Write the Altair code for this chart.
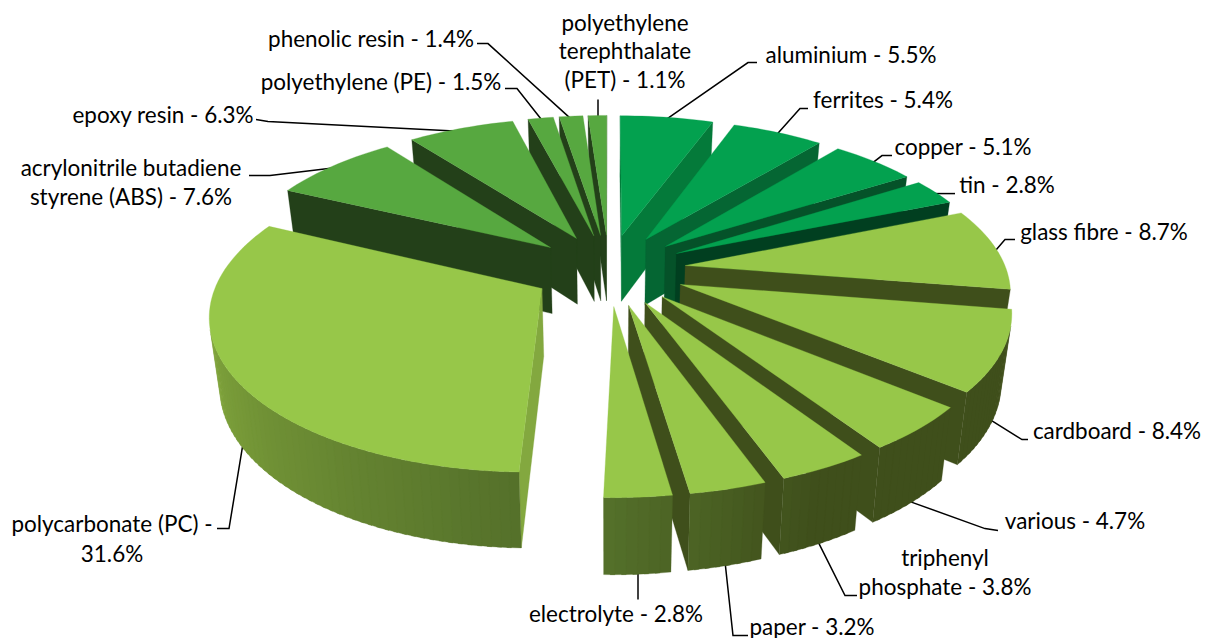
import math
import altair as alt
import pandas as pd

# ---- data
names = ["aluminium", "ferrites", "copper", "tin", "glass fibre", "cardboard", "various",
         "triphenyl phosphate", "paper", "electrolyte", "polycarbonate (PC)",
         "acrylonitrile butadiene styrene (ABS)", "epoxy resin", "polyethylene (PE)",
         "phenolic resin", "polyethylene terephthalate (PET)"]
shares = [5.5, 5.4, 5.1, 2.8, 8.7, 8.4, 4.7, 3.8, 3.2, 2.8, 31.6, 7.6, 6.3, 1.5, 1.4, 1.1]

# ---- colours
top_colors = ["#03A14F"] * 4 + ["#97C749"] * 7 + ["#57A840"] * 5
side_colors = ["#047A3A", "#056633", "#055229", "#013F20"] + ["#3F4F1B"] * 6 + ["#83A83F"] + ["#234019"] * 5

# ---- label text and places (reference pixels)
label_rows = [
    ("polyethylene", 625, 22), ("terephthalate", 625, 50), ("(PET) - 1.1%", 625, 79),
    ("aluminium - 5.5%", 851, 54), ("phenolic resin - 1.4%", 371, 38),
    ("polyethylene (PE) - 1.5%", 381, 81), ("epoxy resin - 6.3%", 163, 114),
    ("acrylonitrile butadiene", 131, 167), ("styrene (ABS) - 7.6%", 131, 196),
    ("ferrites - 5.4%", 883, 99), ("copper - 5.1%", 963, 146), ("tin - 2.8%", 1007, 184),
    ("glass fibre - 8.7%", 1104, 231), ("cardboard - 8.4%", 1117, 430),
    ("various - 4.7%", 1075, 520), ("triphenyl", 945, 557), ("phosphate - 3.8%", 945, 586),
    ("paper - 3.2%", 812, 626), ("electrolyte - 2.8%", 616, 613),
    ("polycarbonate (PC) -", 112, 523), ("31.6%", 112, 553),
]
leaders = [
    [(598, 98), (598, 118)], [(477, 42), (488, 42), (574, 120)], [(505, 87), (517, 87), (543, 120)],
    [(256, 118), (268, 120), (464, 130)], [(249, 174), (270, 174), (337, 166)],
    [(757, 61), (748, 61), (663, 120)], [(808, 107), (800, 107), (775, 135)],
    [(892, 154), (882, 154), (869, 164)], [(955, 192), (928, 192)],
    [(1015, 238), (1005, 238), (993, 252)], [(1028, 438), (1022, 438), (990, 418)],
    [(998, 529), (985, 527), (910, 500)], [(857, 594), (845, 594), (818, 540)],
    [(748, 634), (733, 634), (725, 560)], [(638, 598), (638, 570)],
    [(217, 527), (229, 527), (243, 442)],
]

# ---- page fit: a 1200-wide drawing is shown at 1194 px, so everything is scaled up to match
MARGIN = 8
K = 1200 / 1194

# ---- pie layout: a tilted, exploded disc seen in perspective
CX, CY = 609 - MARGIN, 268 - MARGIN
AX, BY = 321, 148.4
PERSP_X = 0.15
PERSP_Y = 0.156
SHRINK = 0.027
EXPLODE = 0.24
DEPTH = 67
STEP = 1.5
OVERLAP = 0.7


def project(u, v, z=0.0):
    wx = (1 + PERSP_X * v) * (1 + SHRINK * z)
    wy = (1 + PERSP_Y * v)
    return (K * (CX + AX * u / wx), K * (CY - BY * v / (wy * (1 + SHRINK * z)) + DEPTH * z / wy))


def area(pts):
    s = 0.0
    for i, p in enumerate(pts):
        q = pts[(i + 1) % len(pts)]
        s += p[0] * q[1] - q[0] * p[1]
    return s


def mix(a, b, t):
    t = max(0.0, min(1.0, t))
    ca = [int(a[i:i + 2], 16) for i in (1, 3, 5)]
    cb = [int(b[i:i + 2], 16) for i in (1, 3, 5)]
    return "#%02x%02x%02x" % tuple(round(x + (y - x) * t) for x, y in zip(ca, cb))


def rim_color(i, deg):
    if top_colors[i] != "#97C749":
        return side_colors[i]
    if deg >= 181:
        return mix("#54702A", "#8AB040", (deg - 181) / 90)
    return mix("#3F4F1B", "#54702A", (deg - 155) / 26)


def feature(pts, fill):
    ring = [list(p) for p in pts] + [list(pts[0])]
    return {"type": "Feature", "properties": {"fill": fill},
            "geometry": {"type": "Polygon", "coordinates": [ring]}}


total = sum(shares)
wedges = []
acc = 0.0
for i, s in enumerate(shares):
    a0 = acc / total * 360
    acc += s
    a1 = acc / total * 360
    wedges.append((i, a0, a1))


def mid_v(w):
    return math.cos(math.radians((w[1] + w[2]) / 2))


features = []
for i, a0, a1 in sorted(wedges, key=mid_v, reverse=True):
    m = math.radians((a0 + a1) / 2)
    au, av = EXPLODE * math.sin(m), EXPLODE * math.cos(m)
    n = max(2, int((a1 - a0) / STEP))
    degs = [a0 + (a1 - a0) * j / n for j in range(n + 1)]

    def rim_at(d):
        return (au + math.sin(math.radians(d)), av + math.cos(math.radians(d)))

    rim = [rim_at(d) for d in degs]

    # radial walls
    first = [project(*rim[0]), project(au, av), project(au, av, 1), project(*rim[0], 1)]
    last = [project(au, av), project(*rim[-1]), project(*rim[-1], 1), project(au, av, 1)]
    for wall in (first, last):
        if area(wall) > 0:
            features.append(feature(wall, side_colors[i]))
    # outer wall, as shaded strips that overlap the next one slightly
    for j in range(n):
        d0, d1 = degs[j], min(a1, degs[j + 1] + OVERLAP)
        quad = [project(*rim_at(d0)), project(*rim_at(d1)), project(*rim_at(d1), 1), project(*rim_at(d0), 1)]
        if area(quad) < 0:
            features.append(feature(quad, rim_color(i, (degs[j] + degs[j + 1]) / 2)))
    # top face
    features.append(feature([project(au, av)] + [project(*p) for p in rim], top_colors[i]))

pie = alt.Chart(alt.Data(values=features)).mark_geoshape(strokeWidth=0.3).encode(
    fill=alt.Fill("properties.fill:N", scale=None),
    stroke=alt.Stroke("properties.fill:N", scale=None),
).project(type="identity", scale=1, translate=[0, 0])

leader_df = pd.DataFrame(
    [{"id": k, "o": j, "x": (p[0] - MARGIN) * K, "y": (p[1] - MARGIN) * K}
     for k, line in enumerate(leaders) for j, p in enumerate(line)]
)
lines = alt.Chart(leader_df).mark_line(color="#000000", strokeWidth=1.5).encode(
    x=alt.X("x:Q", scale=None, axis=None),
    y=alt.Y("y:Q", scale=None, axis=None),
    detail="id:N",
    order="o:Q",
)

label_df = pd.DataFrame([{"t": t, "x": (x - MARGIN) * K, "y": (y - MARGIN) * K} for t, x, y in label_rows])
labels = alt.Chart(label_df).mark_text(font="Lato", fontSize=22.6, color="#000000",
                                       align="center", baseline="middle").encode(
    x=alt.X("x:Q", scale=None, axis=None),
    y=alt.Y("y:Q", scale=None, axis=None),
    text="t:N",
)

chart = alt.layer(lines, pie, labels).properties(
    width=1200, height=632, padding=0, autosize="none"
).configure_view(stroke=None)

chart.save("out.html", embed_options={"renderer": "svg", "actions": False})
